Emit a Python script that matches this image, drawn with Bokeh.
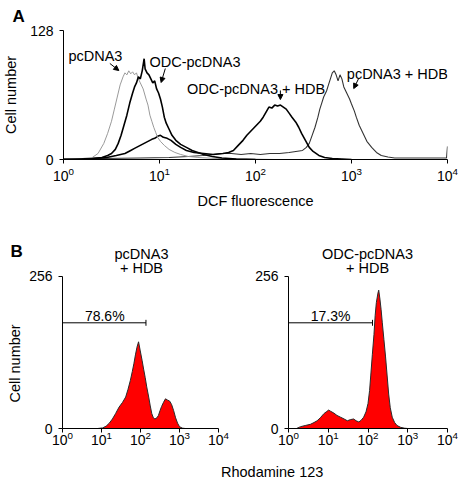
import numpy as np
from bokeh.plotting import figure
from bokeh.models import Range1d, FixedTicker, Label, Arrow, NormalHead, Title
from bokeh.layouts import column, row
from bokeh.embed import file_html
from bokeh.resources import INLINE

FONT = "Liberation Sans"

# ---------------- data (log10 of fluorescence, cell counts) ----------------
decade_ticks = [1, 10, 100, 1000, 10000]

# Panel A: DCF fluorescence histograms
a_pc_exp = [0.00, 0.20, 0.30, 0.36, 0.42, 0.46, 0.50, 0.53, 0.56, 0.59, 0.62, 0.64, 0.66, 0.68,
            0.70, 0.72, 0.74, 0.76, 0.78, 0.80, 0.83, 0.86, 0.88, 0.90, 0.92, 0.94, 0.96, 0.98,
            1.01, 1.05, 1.10, 1.16, 1.22, 1.30, 1.40, 1.60, 1.90, 2.20]
a_pc_val = [0.5, 1, 2, 6, 16, 26, 38, 50, 62, 74, 82, 86, 84, 88,
            85, 87, 84, 86, 80, 76, 70, 60, 54, 44, 38, 32, 27, 22,
            18, 14, 10, 7, 5, 3, 2, 1, 0.5, 0]

a_odc_exp = [0.00, 0.30, 0.40, 0.46, 0.50, 0.54, 0.57, 0.60, 0.63, 0.66, 0.69, 0.72, 0.74, 0.76,
             0.78, 0.80, 0.82, 0.84, 0.85, 0.87, 0.89, 0.91, 0.93, 0.95, 0.97, 0.99, 1.01, 1.03,
             1.05, 1.07, 1.10, 1.13, 1.17, 1.22, 1.28, 1.34, 1.40, 1.46, 1.55, 1.65, 1.80, 2.00]
a_odc_val = [0, 1, 2, 4, 6, 10, 16, 24, 34, 44, 56, 66, 72, 76,
             82, 80, 88, 100, 90, 86, 84, 80, 76, 78, 70, 66, 60, 52,
             42, 36, 30, 24, 19, 15, 12, 9, 7, 5, 3, 1.5, 0.5, 0]

a_odch_exp = [0.00, 0.30, 0.45, 0.55, 0.64, 0.70, 0.74, 0.78, 0.84, 0.88, 0.92, 0.95, 0.98, 1.01,
              1.04, 1.08, 1.12, 1.17, 1.22, 1.28, 1.36, 1.46, 1.56, 1.66, 1.72, 1.77, 1.82, 1.87,
              1.91, 1.94, 1.98, 2.01, 2.05, 2.08, 2.11, 2.14, 2.17, 2.20, 2.23, 2.26, 2.29, 2.32,
              2.35, 2.38, 2.42, 2.45, 2.48, 2.52, 2.56, 2.60, 2.66, 2.72, 2.80, 2.90, 3.00]
a_odch_val = [0.5, 1, 2, 4, 6, 9, 11, 13, 16, 18, 20, 21, 23, 24,
              22, 21, 19, 15, 12, 9, 7, 6, 5, 6, 7, 9, 14, 19,
              24, 27, 31, 34, 38, 42, 47, 52, 51, 54, 53, 54, 52, 50,
              46, 42, 37, 32, 26, 19, 12, 8, 4, 2, 1, 0.5, 0]

a_pch_exp = [0.00, 0.40, 0.80, 1.10, 1.30, 1.45, 1.55, 1.65, 1.75, 1.85, 1.95, 2.05, 2.15, 2.25,
             2.35, 2.42, 2.49, 2.53, 2.56, 2.59, 2.62, 2.65, 2.67, 2.69, 2.71, 2.74, 2.76, 2.78,
             2.80, 2.82, 2.84, 2.86, 2.88, 2.90, 2.92, 2.95, 2.98, 3.00, 3.03, 3.05, 3.08, 3.12,
             3.16, 3.21, 3.26, 3.31, 3.38, 3.45, 3.60, 3.80, 3.99, 4.00]
a_pch_val = [0.5, 1, 1.5, 2, 3, 4, 5, 6, 6, 5, 6, 5, 6, 6,
             7, 8, 9, 12, 16, 24, 32, 42, 50, 56, 62, 68, 74, 80,
             86, 88, 84, 78, 84, 80, 72, 66, 60, 55, 48, 42, 34, 26,
             18, 12, 7, 4, 2.5, 1.5, 1.5, 1.5, 1.5, 13]

# Panel B: Rhodamine 123 histograms
b_pc_exp = [0.90, 1.03, 1.12, 1.20, 1.28, 1.36, 1.45, 1.54, 1.62, 1.68, 1.74, 1.79, 1.83, 1.87,
            1.91, 1.95, 1.99, 2.04, 2.08, 2.12, 2.16, 2.21, 2.25, 2.29, 2.33, 2.37, 2.42, 2.46,
            2.50, 2.54, 2.59, 2.64, 2.69, 2.75, 2.80, 2.85, 2.90, 2.95, 3.00, 3.08, 3.15]
b_pc_val = [0, 1, 4, 9, 16, 25, 36, 44, 53, 66, 81, 96, 109, 124,
            137, 146, 132, 115, 100, 86, 70, 53, 38, 25, 18, 16, 18, 22,
            30, 37, 44, 50, 48, 46, 40, 30, 18, 9, 3, 0.5, 0]

b_odc_exp = [0.20, 0.30, 0.42, 0.55, 0.64, 0.72, 0.80, 0.89, 0.95, 1.01, 1.06, 1.14, 1.22, 1.31,
             1.40, 1.48, 1.56, 1.64, 1.70, 1.77, 1.83, 1.89, 1.95, 2.00, 2.04, 2.07, 2.11, 2.15,
             2.18, 2.21, 2.25, 2.27, 2.30, 2.33, 2.36, 2.40, 2.44, 2.48, 2.52, 2.56, 2.61, 2.67,
             2.73, 2.82, 2.92, 3.00]
b_odc_val = [0, 3, 5, 7, 10, 13, 18, 25, 28, 31, 29, 26, 22, 19,
             16, 13, 15, 16, 13, 11, 14, 19, 28, 42, 64, 90, 125, 158,
             190, 212, 228, 233, 218, 200, 178, 150, 122, 90, 58, 35, 19, 10,
             5, 2, 0.5, 0]

gate_level = 178
gate_end = [138, 130]
gate_pct = ["78.6%", "17.3%"]
b_titles = [("pcDNA3", "+ HDB"), ("ODC-pcDNA3", "+ HDB")]


def xs(e):
    return 10 ** np.array(e, dtype=float)


def style(p, yticks):
    p.grid.visible = False
    p.outline_line_color = None
    p.background_fill_color = "white"
    p.border_fill_color = "white"
    p.xaxis.ticker = FixedTicker(ticks=decade_ticks)
    p.yaxis.ticker = FixedTicker(ticks=yticks)
    for ax in p.axis:
        ax.axis_line_color = "black"
        ax.axis_line_width = 1
        ax.major_tick_line_color = "black"
        ax.major_tick_in = 0
        ax.major_tick_out = 4
        ax.minor_tick_line_color = None
        ax.major_label_text_font = FONT
        ax.major_label_text_font_size = "14px"
        ax.major_label_text_color = "black"
        ax.axis_label_text_font = FONT
        ax.axis_label_text_font_size = "14.5px"
        ax.axis_label_text_font_style = "normal"
        ax.axis_label_text_color = "black"
    p.yaxis.major_label_standoff = 6
    p.yaxis.axis_label_standoff = 8


def panel_letter(p, text, offset, standoff):
    t = p.title
    t.text = text
    t.align = "left"
    t.offset = offset
    t.standoff = standoff
    t.text_font = FONT
    t.text_font_size = "17px"
    t.text_font_style = "bold"
    t.text_color = "black"


def label(p, x, y, text, size="14.5px", align="left"):
    p.add_layout(Label(x=x, y=y, text=text, text_font=FONT, text_font_size=size,
                       text_align=align, text_baseline="alphabetic", text_color="black"))


def arrow(p, x0, y0, x1, y1):
    p.add_layout(Arrow(end=NormalHead(size=5, fill_color="black", line_color="black"),
                       x_start=x0, y_start=y0, x_end=x1, y_end=y1,
                       line_color="black", line_width=1))


# ---------------- Panel A ----------------
pA = figure(width=460, height=213, x_axis_type="log", x_range=Range1d(1, 1e4),
            y_range=Range1d(0, 128), output_backend="svg", toolbar_location=None,
            min_border_left=58, min_border_right=13, min_border_top=30, min_border_bottom=54)
style(pA, [0, 128])
pA.xaxis.axis_label = "DCF fluorescence"
pA.yaxis.axis_label = "Cell number"
pA.xaxis.major_label_standoff = 3
pA.xaxis.axis_label_standoff = 9
panel_letter(pA, "A", -51, 9)

pA.line(xs(a_pch_exp), a_pch_val, line_color="#333333", line_width=1.1)
pA.line(xs(a_odch_exp), a_odch_val, line_color="black", line_width=1.6)
pA.line(xs(a_pc_exp), a_pc_val, line_color="#9a9a9a", line_width=1)
pA.line(xs(a_odc_exp), a_odc_val, line_color="black", line_width=1.6)

label(pA, 1.125, 102.5, "pcDNA3")
label(pA, 7.85, 96.5, "ODC-pcDNA3")
label(pA, 19.3, 70.4, "ODC-pcDNA3 + HDB")
label(pA, 894, 85.3, "pcDNA3 + HDB")
arrow(pA, 3.04, 95.3, 3.77, 88.3)
arrow(pA, 11.5, 90.3, 10.4, 76.4)
arrow(pA, 181.6, 68.5, 181.6, 59.5)
arrow(pA, 1188, 80.4, 1055, 70.4)


# ---------------- Panel B ----------------
def panel_b(i, exps, vals, width, left_border, right_border):
    p = figure(width=width, height=239, x_axis_type="log", x_range=Range1d(1, 1e4),
               y_range=Range1d(0, 316.6), output_backend="svg", toolbar_location=None,
               min_border_left=left_border, min_border_right=right_border,
               min_border_top=27, min_border_bottom=24)
    style(p, [0, 256])
    p.yaxis.bounds = (0, 256)
    p.xaxis.major_label_standoff = -2
    x = xs(exps)
    p.varea(x=x, y1=0, y2=vals, fill_color="#ff0000")
    p.line(x, vals, line_color="#2a2a2a", line_width=1)
    p.segment(x0=[1], y0=[gate_level], x1=[gate_end[i]], y1=[gate_level],
              line_color="black", line_width=1)
    p.segment(x0=[gate_end[i]], y0=[gate_level - 5], x1=[gate_end[i]], y1=[gate_level + 5],
              line_color="black", line_width=1)
    return p


pB1 = panel_b(0, b_pc_exp, b_pc_val, 234, 59, 16)
pB2 = panel_b(1, b_odc_exp, b_odc_val, 226, 54, 13)

# y-axis title of panel B, kept level with the 0-256 axis
pB1.add_layout(Title(text="Cell number", align="left", offset=26, standoff=8,
                     text_font=FONT, text_font_size="14.5px", text_font_style="normal",
                     text_color="black"), "left")
panel_letter(pB1, "B", -52, -41)

label(pB1, 106, 294.7, b_titles[0][0], align="center")
label(pB1, 106, 269.5, b_titles[0][1], align="center")
label(pB2, 97.1, 294.7, b_titles[1][0], align="center")
label(pB2, 97.1, 269.5, b_titles[1][1], align="center")
label(pB1, 12.1, 190, gate_pct[0], size="14px", align="center")
label(pB2, 11.4, 190, gate_pct[1], size="14px", align="center")

# shared x-axis title for panel B
pL = figure(width=460, height=26, x_range=Range1d(0, 460), y_range=Range1d(0, 26),
            output_backend="svg", toolbar_location=None, min_border=0)
pL.axis.visible = False
pL.grid.visible = False
pL.outline_line_color = None
label(pL, 250, 7, "Rhodamine 123", align="center")

layout = column(pA, row(pB1, pB2), pL)
open("out.html", "w").write(file_html(layout, INLINE))
